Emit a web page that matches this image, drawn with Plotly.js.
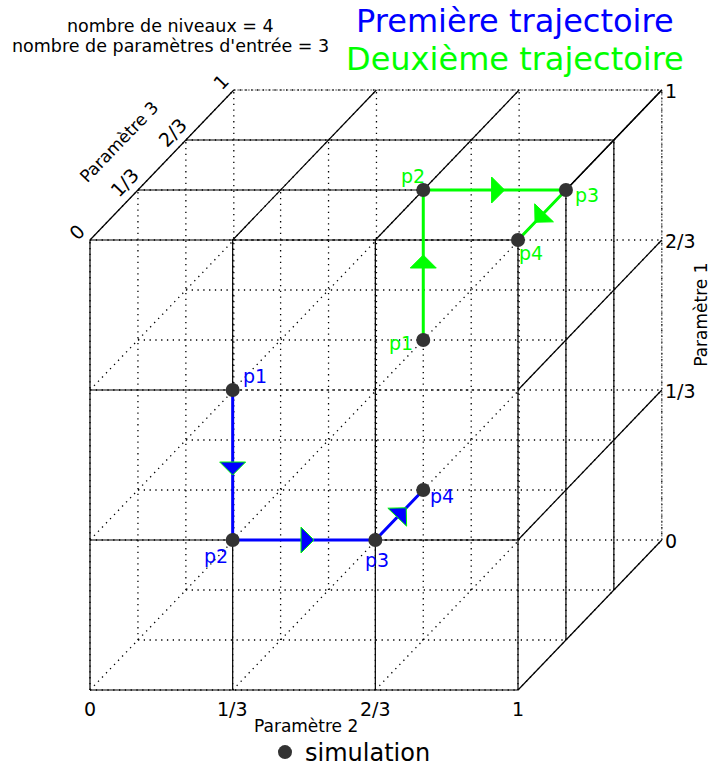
<!DOCTYPE html>
<html><head><meta charset="utf-8">
<script src="https://cdn.plot.ly/plotly-3.0.1.min.js"></script>
<style>html,body{margin:0;padding:0;background:#fff}</style>
</head><body><div id="chart" style="width:712px;height:768px"></div>
<script>
// ---- data ----
const levels = [0, 1/3, 2/3, 1];
const levelLabels = ['0', '1/3', '2/3', '1'];
const pointNames = ['p1', 'p2', 'p3', 'p4'];
// first trajectory (Paramètre 1, Paramètre 2, Paramètre 3)
const traj1P1 = [2/3, 1/3, 1/3, 1/3];
const traj1P2 = [1/3, 1/3, 2/3, 2/3];
const traj1P3 = [0, 0, 0, 1/3];
// second trajectory
const traj2P1 = [2/3, 1, 1, 1];
const traj2P2 = [2/3, 2/3, 1, 1];
const traj2P3 = [1/3, 1/3, 1/3, 0];
const nLevels = 4, nParams = 3;

// ---- projection / style ----
const KX = 0.336, KY = 1/3;      // oblique depth factors
const SX = 428, SY = 450;        // px per unit on each axis
const BLUE = '#0000ff', GREEN = '#00ff00';
const FONT = 'DejaVu Sans';
function proj(p1, p2, p3) { return [p2 + KX * p3, p1 + KY * p3]; }

function segTrace(segs, line) {
  const x = [], y = [];
  segs.forEach(([a, b]) => {
    const pa = proj(...a), pb = proj(...b);
    x.push(pa[0], pb[0], null); y.push(pa[1], pb[1], null);
  });
  return {type: 'scatter', mode: 'lines', x, y, line, hoverinfo: 'skip', showlegend: false};
}

// dotted lattice
const lattice = [];
levels.forEach(a => levels.forEach(b => {
  lattice.push([[a, 0, b], [a, 1, b]]);   // along P2
  lattice.push([[0, a, b], [1, a, b]]);   // along P1
  lattice.push([[a, b, 0], [a, b, 1]]);   // along P3
}));
// solid visible faces
const solid = [];
levels.forEach(b => solid.push([[0, b, 0], [1, b, 0]]));                 // front verticals
[0, 1/3, 1].forEach(a => solid.push([[a, 0, 0], [a, 1, 0]]));            // front horizontals
solid.push([[2/3, 0, 0], [2/3, 1/3, 0]]);
[1/3, 2/3].forEach(c => solid.push([[1, 0, c], [1, 1, c]]));             // top along P2
levels.forEach(b => solid.push([[1, b, 0], [1, b, 1]]));                 // top along P3
[1/3, 2/3].forEach(c => solid.push([[0, 1, c], [1, 1, c]]));             // right verticals
levels.forEach(a => solid.push([[a, 1, 0], [a, 1, 1]]));                 // right diagonals
const backEdges = [[[1, 0, 1], [1, 1, 1]], [[0, 1, 1], [1, 1, 1]]];

function pathTrace(P1, P2, P3, color) {
  const x = [], y = [];
  P1.forEach((v, i) => { const p = proj(P1[i], P2[i], P3[i]); x.push(p[0]); y.push(p[1]); });
  return {type: 'scatter', mode: 'lines', x, y, line: {color, width: 3}, hoverinfo: 'skip', showlegend: false};
}
function arrowTrace(P1, P2, P3, fill, edge) {
  const x = [], y = [];
  for (let i = 0; i < P1.length - 1; i++) {
    const a = proj(P1[i], P2[i], P3[i]), b = proj(P1[i + 1], P2[i + 1], P3[i + 1]);
    const A = [a[0] * SX, a[1] * SY], B = [b[0] * SX, b[1] * SY];
    const L = Math.hypot(B[0] - A[0], B[1] - A[1]);
    const d = [(B[0] - A[0]) / L, (B[1] - A[1]) / L], n = [-d[1], d[0]];
    const m = [(A[0] + B[0]) / 2, (A[1] + B[1]) / 2];
    const base = [m[0] - 3 * d[0], m[1] - 3 * d[1]], tip = [m[0] + 10 * d[0], m[1] + 10 * d[1]];
    const pts = [[base[0] + 13 * n[0], base[1] + 13 * n[1]], tip, [base[0] - 13 * n[0], base[1] - 13 * n[1]]];
    pts.concat([pts[0]]).forEach(p => { x.push(p[0] / SX); y.push(p[1] / SY); });
    x.push(null); y.push(null);
  }
  return {type: 'scatter', mode: 'lines', x, y, fill: 'toself', fillcolor: fill,
          line: {color: edge, width: 1}, hoverinfo: 'skip', showlegend: false};
}

const mx = [], my = [];
[[traj1P1, traj1P2, traj1P3], [traj2P1, traj2P2, traj2P3]].forEach(([A, B, C]) => {
  A.forEach((v, i) => { const p = proj(A[i], B[i], C[i]); mx.push(p[0]); my.push(p[1]); });
});

const traces = [
  segTrace(lattice, {color: '#000', width: 1.3, dash: '1.3px,4.5px'}),
  segTrace(backEdges, {color: '#555', width: 1, dash: '2px,1.5px'}),
  segTrace(solid, {color: '#000', width: 1.2}),
  pathTrace(traj1P1, traj1P2, traj1P3, BLUE),
  pathTrace(traj2P1, traj2P2, traj2P3, GREEN),
  arrowTrace(traj1P1, traj1P2, traj1P3, BLUE, GREEN),
  arrowTrace(traj2P1, traj2P2, traj2P3, GREEN, GREEN),
  {type: 'scatter', mode: 'markers', x: mx, y: my, name: 'simulation',
   marker: {color: '#333333', size: 14}, hoverinfo: 'skip', showlegend: true}
];

// ---- annotations ----
const ann = [];
const lab1Off = [[22, 14], [-17, -16], [2, -20], [19, -6]];
const lab2Off = [[-22, -3], [-10, 14], [21, -5], [13, -13]];
function addLabels(P1, P2, P3, offs, color) {
  P1.forEach((v, i) => {
    const p = proj(P1[i], P2[i], P3[i]);
    ann.push({x: p[0], y: p[1], text: pointNames[i], showarrow: false, xanchor: 'center', yanchor: 'middle',
              xshift: offs[i][0], yshift: offs[i][1], font: {family: FONT, size: 19, color}});
  });
}
addLabels(traj1P1, traj1P2, traj1P3, lab1Off, BLUE);
addLabels(traj2P1, traj2P2, traj2P3, lab2Off, GREEN);

levels.forEach((l, i) => {
  let p = proj(0, l, 0);
  ann.push({x: p[0], y: p[1], text: levelLabels[i], showarrow: false, xanchor: 'center', yanchor: 'top',
            yshift: -6, font: {family: FONT, size: 19, color: '#000'}});
  p = proj(l, 1, 1);
  ann.push({x: p[0], y: p[1], text: levelLabels[i], showarrow: false, xanchor: 'left', yanchor: 'middle',
            xshift: 1, yshift: -1, font: {family: FONT, size: 19, color: '#000'}});
  p = proj(1, 0, l);
  ann.push({x: p[0], y: p[1], text: levelLabels[i], showarrow: false, xanchor: 'center', yanchor: 'middle',
            xshift: -13, yshift: 8, textangle: -46, font: {family: FONT, size: 19, color: '#000'}});
});
let pa = proj(0, 0.5, 0);
ann.push({x: pa[0], y: pa[1], text: 'Paramètre 2', showarrow: false, xanchor: 'center', yanchor: 'middle',
          xshift: 2, yshift: -36, font: {family: FONT, size: 17, color: '#000'}});
pa = proj(0.5, 1, 1);
ann.push({x: pa[0], y: pa[1], text: 'Paramètre 1', showarrow: false, xanchor: 'center', yanchor: 'middle',
          xshift: 39, yshift: 0, textangle: -90, font: {family: FONT, size: 17, color: '#000'}});
pa = proj(1, 0, 0.5);
ann.push({x: pa[0], y: pa[1], text: 'Paramètre 3', showarrow: false, xanchor: 'center', yanchor: 'middle',
          xshift: -43, yshift: 23, textangle: -46, font: {family: FONT, size: 17, color: '#000'}});

ann.push({xref: 'paper', yref: 'paper', x: 170 / 712, y: 1 - 26 / 768, text: 'nombre de niveaux = ' + nLevels,
          showarrow: false, xanchor: 'center', yanchor: 'middle', font: {family: FONT, size: 17.5, color: '#000'}});
ann.push({xref: 'paper', yref: 'paper', x: 170 / 712, y: 1 - 46 / 768, text: "nombre de paramètres d'entrée = " + nParams,
          showarrow: false, xanchor: 'center', yanchor: 'middle', font: {family: FONT, size: 17.5, color: '#000'}});
ann.push({xref: 'paper', yref: 'paper', x: 515 / 712, y: 1 - 21 / 768, text: 'Première trajectoire',
          showarrow: false, xanchor: 'center', yanchor: 'middle', font: {family: FONT, size: 32, color: BLUE}});
ann.push({xref: 'paper', yref: 'paper', x: 515 / 712, y: 1 - 59 / 768, text: 'Deuxième trajectoire',
          showarrow: false, xanchor: 'center', yanchor: 'middle', font: {family: FONT, size: 32, color: GREEN}});

const layout = {
  width: 712, height: 768,
  margin: {l: 0, r: 0, t: 0, b: 0, autoexpand: false},
  paper_bgcolor: '#fff', plot_bgcolor: '#fff',
  xaxis: {range: [-90 / SX, 622 / SX], visible: false, fixedrange: true},
  yaxis: {range: [-78 / SY, 690 / SY], visible: false, fixedrange: true},
  showlegend: true,
  legend: {x: 265 / 712, xanchor: 'left', y: -7 / 768, yanchor: 'bottom', bgcolor: 'rgba(0,0,0,0)',
           font: {family: FONT, size: 24, color: '#000'}},
  annotations: ann,
  font: {family: FONT}
};
Plotly.newPlot('chart', traces, layout, {staticPlot: true});
</script></body></html>
